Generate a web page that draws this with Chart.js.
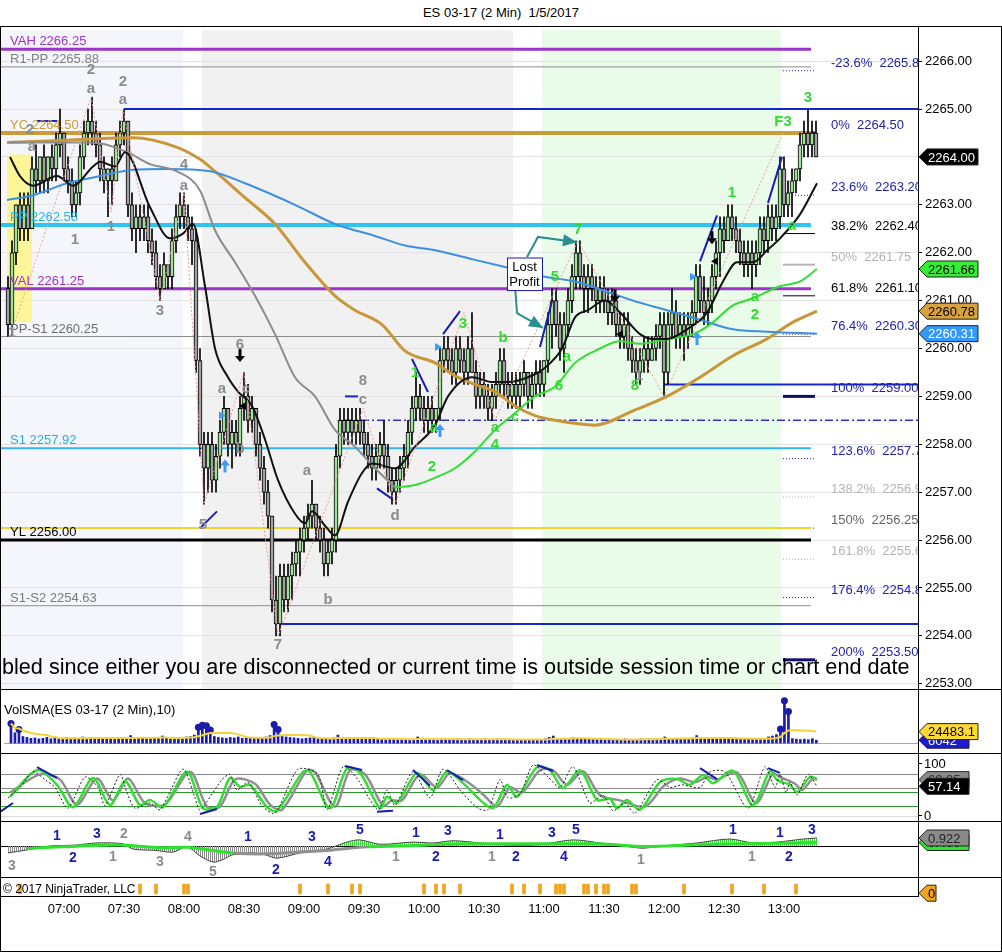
<!DOCTYPE html>
<html>
<head>
<meta charset="utf-8">
<title>ES 03-17 (2 Min) 1/5/2017</title>
<script src="https://cdn.jsdelivr.net/npm/chart.js@4.4.0/dist/chart.umd.min.js"></script>
<style>
  html, body { margin: 0; padding: 0; background: #fff; }
  body { width: 1002px; height: 952px; position: relative; overflow: hidden; font-family: "Liberation Sans", Arial, sans-serif; }
  canvas { position: absolute; left: 0; }
  #title { position: absolute; top: 5px; left: 0; width: 1002px; text-align: center; font-size: 13px; color: #000; }
</style>
</head>
<body>
<div id="title">ES 03-17 (2 Min)&nbsp;&nbsp;1/5/2017</div>
<canvas id="main" width="1002" height="660" style="top:30px"></canvas>
<canvas id="vol" width="1002" height="64" style="top:690px"></canvas>
<canvas id="stoch" width="1002" height="68" style="top:754px"></canvas>
<canvas id="osc" width="1002" height="56" style="top:822px"></canvas>
<canvas id="marks" width="1002" height="74" style="top:878px"></canvas>
<canvas id="frame" width="1002" height="952" style="top:0;pointer-events:none"></canvas>
<script>
const FONT = '"Liberation Sans", Arial, sans-serif';
Chart.defaults.font.family = FONT;
Chart.defaults.color = '#000';

// ---- 2 minute bars, times are minutes after midnight ----
const firstBarTime = 392; // 06:32
const barMinutes = 2;
const firstOpen = 2261.25;
const closes = [
  2260.50,2262.00,2263.00,2262.50,2263.00,2262.50,2263.75,2263.50,2264.00,2263.50,
  2264.00,2263.75,2264.25,2264.50,2263.75,2263.50,2263.00,2263.25,2264.00,2264.50,
  2264.75,2264.50,2264.25,2263.75,2263.50,2263.75,2263.50,2264.25,2264.50,2264.75,
  2263.00,2262.50,2262.75,2262.50,2262.75,2262.25,2262.00,2261.50,2261.25,2261.75,
  2261.50,2262.25,2262.75,2263.00,2262.75,2262.50,2262.25,2259.75,2258.00,2257.50,
  2258.00,2257.25,2257.75,2258.25,2258.75,2258.00,2258.25,2258.00,2258.75,2259.00,
  2258.50,2258.75,2258.00,2257.50,2257.00,2256.50,2254.75,2254.25,2255.25,2254.75,
  2255.25,2255.50,2255.75,2256.00,2256.25,2256.50,2256.75,2256.25,2256.00,2255.50,
  2255.75,2256.00,2257.75,2258.50,2258.25,2258.50,2258.25,2258.50,2258.25,2258.00,
  2257.75,2257.50,2257.75,2258.00,2257.75,2257.25,2257.00,2257.25,2257.50,2257.75,
  2258.25,2258.75,2259.00,2258.75,2258.50,2258.75,2258.50,2258.75,2259.75,2260.00,
  2259.75,2259.50,2260.00,2259.75,2259.50,2260.00,2259.50,2259.00,2259.25,2259.00,
  2258.75,2259.00,2259.25,2259.75,2259.25,2259.00,2259.25,2259.00,2259.25,2259.50,
  2259.00,2259.25,2259.50,2259.25,2259.75,2260.50,2261.00,2260.50,2260.00,2260.50,
  2261.00,2261.50,2262.00,2261.50,2261.25,2261.50,2261.25,2261.00,2261.25,2261.00,
  2260.75,2261.00,2260.50,2260.25,2260.50,2260.00,2259.75,2259.50,2259.75,2260.00,
  2259.75,2260.00,2260.25,2260.50,2259.50,2260.50,2260.75,2260.25,2260.50,2260.25,
  2260.50,2260.75,2261.50,2261.00,2260.75,2261.00,2261.50,2262.00,2262.50,2262.25,
  2262.75,2262.50,2262.25,2262.00,2261.75,2262.00,2261.75,2262.00,2262.50,2262.25,
  2262.75,2262.50,2262.75,2263.75,2263.00,2263.25,2263.50,2263.75,2264.25,2264.50,
  2264.25,2264.50,2264.00
];
const highs = [
  2261.50,2262.25,2263.00,2263.25,2263.25,2263.25,2264.00,2264.25,2264.00,2264.25,
  2264.00,2264.25,2264.50,2265.00,2264.50,2264.00,2263.75,2263.50,2264.25,2264.75,
  2265.00,2265.25,2264.75,2264.50,2264.00,2263.75,2264.00,2264.50,2264.75,2265.00,
  2264.75,2263.25,2263.00,2263.00,2263.00,2263.00,2262.50,2262.25,2261.75,2262.00,
  2261.75,2262.50,2263.00,2263.25,2263.25,2263.00,2262.75,2262.50,2260.00,2258.25,
  2258.25,2258.25,2258.00,2258.50,2259.00,2258.75,2258.50,2258.50,2259.00,2259.50,
  2259.25,2259.00,2258.75,2258.25,2257.75,2257.25,2256.50,2255.25,2255.50,2255.50,
  2255.50,2255.75,2256.00,2256.25,2256.50,2256.75,2257.25,2256.75,2256.50,2256.25,
  2256.00,2256.25,2258.00,2258.75,2258.75,2258.75,2258.75,2258.75,2258.75,2258.50,
  2258.25,2258.00,2258.00,2258.25,2258.50,2258.00,2257.50,2257.50,2257.75,2258.00,
  2258.50,2259.00,2259.50,2259.25,2259.00,2259.00,2259.00,2258.75,2260.00,2260.25,
  2260.25,2260.00,2260.25,2260.25,2260.00,2260.25,2260.75,2259.75,2259.50,2259.50,
  2259.25,2259.25,2259.50,2260.00,2260.00,2259.50,2259.50,2259.50,2259.50,2259.75,
  2259.50,2259.50,2259.75,2259.75,2259.75,2260.75,2261.25,2261.25,2260.75,2260.75,
  2261.25,2261.75,2262.25,2262.25,2261.75,2261.75,2261.75,2261.50,2261.50,2261.50,
  2261.25,2261.25,2261.00,2260.75,2260.75,2260.75,2260.25,2260.00,2260.00,2260.25,
  2260.25,2260.25,2260.50,2260.75,2260.75,2260.75,2261.25,2261.00,2260.75,2260.75,
  2260.75,2261.00,2261.75,2261.75,2261.50,2261.25,2261.75,2262.25,2262.75,2262.75,
  2263.00,2263.00,2262.75,2262.50,2262.25,2262.25,2262.25,2262.25,2262.75,2262.75,
  2263.00,2263.00,2263.00,2264.00,2264.00,2263.50,2263.75,2263.75,2264.50,2264.75,
  2265.00,2264.75,2264.75
];
const lows = [
  2260.25,2260.25,2261.75,2262.25,2262.25,2262.25,2262.50,2263.25,2263.25,2263.25,
  2263.25,2263.50,2263.50,2264.00,2263.50,2263.25,2262.75,2262.75,2263.00,2263.75,
  2264.25,2264.25,2264.00,2263.50,2263.25,2262.75,2263.00,2263.50,2264.00,2264.25,
  2262.75,2262.25,2262.00,2262.25,2262.25,2262.00,2261.75,2261.25,2261.00,2261.25,
  2261.25,2261.25,2262.00,2262.50,2262.50,2262.25,2261.75,2259.50,2257.75,2256.75,
  2257.00,2257.00,2257.00,2257.50,2258.00,2257.75,2257.50,2257.75,2257.75,2258.50,
  2258.25,2258.25,2257.75,2257.25,2256.75,2256.25,2254.50,2254.00,2254.00,2254.50,
  2254.50,2254.75,2255.25,2255.25,2255.75,2256.00,2256.25,2256.00,2255.75,2255.25,
  2255.25,2255.50,2255.75,2257.50,2258.00,2258.00,2258.00,2258.00,2258.00,2257.75,
  2257.50,2257.25,2257.25,2257.50,2257.50,2257.00,2256.75,2256.75,2257.00,2257.25,
  2257.50,2258.00,2258.50,2258.50,2258.25,2258.25,2258.25,2258.25,2258.50,2259.50,
  2259.50,2259.25,2259.25,2259.50,2259.25,2259.25,2259.50,2258.75,2258.75,2258.75,
  2258.50,2258.50,2258.75,2259.00,2259.00,2258.75,2258.75,2258.75,2258.75,2259.00,
  2258.75,2258.75,2259.00,2259.00,2259.00,2259.50,2260.00,2260.25,2259.75,2259.50,
  2260.25,2260.75,2261.25,2261.25,2260.75,2260.75,2261.00,2260.75,2260.75,2260.75,
  2260.50,2260.50,2260.25,2260.00,2260.00,2259.75,2259.50,2259.25,2259.25,2259.50,
  2259.50,2259.75,2259.75,2260.00,2259.00,2259.25,2260.25,2260.00,2260.00,2259.75,
  2260.00,2260.25,2260.50,2260.75,2260.50,2260.50,2260.75,2261.25,2261.50,2262.00,
  2262.25,2262.25,2262.00,2261.75,2261.50,2261.50,2261.25,2261.50,2261.75,2262.00,
  2262.00,2262.25,2262.25,2262.50,2262.75,2262.75,2262.75,2263.25,2263.50,2264.00,
  2264.00,2264.00,2264.00
];
const volumes = [
  42000,22000,29000,14000,12000,10000,11000,9000,10000,12000,
  9000,11000,10000,9000,12000,10000,11000,9000,13000,10000,
  11000,12000,9000,10000,11000,10000,9000,12000,11000,10000,
  16000,12000,10000,11000,9000,10000,12000,11000,15000,10000,
  9000,11000,12000,10000,13000,14000,17000,34000,38000,37000,
  28000,14000,12000,11000,10000,12000,11000,13000,10000,11000,
  12000,10000,11000,12000,13000,16000,40000,29000,15000,13000,
  12000,11000,10000,9000,10000,11000,12000,9000,8000,10000,
  9000,11000,17000,12000,10000,9000,11000,10000,9000,8000,
  9000,10000,8000,9000,7000,9000,10000,9000,6000,8000,
  7000,8000,13000,9000,8000,7000,9000,8000,9000,8000,
  7000,8000,9000,7000,8000,9000,8000,7000,8000,9000,
  8000,7000,9000,8000,7000,8000,6000,7000,8000,7000,
  8000,7000,8000,7000,9000,12000,15000,9000,8000,10000,
  9000,11000,10000,9000,8000,9000,8000,7000,8000,7000,
  8000,7000,8000,7000,9000,8000,7000,8000,9000,8000,
  9000,8000,9000,10000,13000,10000,9000,10000,9000,9000,
  10000,11000,16000,12000,10000,9000,10000,11000,12000,9000,
  10000,9000,8000,9000,8000,9000,8000,9000,10000,9000,
  13000,15000,18000,30000,91000,68000,9500,8200,7400,8300,
  7100,9289,6042
];

// ---- moving averages (time, value) ----
const blackMaT = [393,398,404.5,416.5,424.5,434.5,438,445.5,450.5,463,473,479.5,484.5,490.5,495.5,502,507,514,520.5,527,535.5,540.5,544,550.5,555.5,562,569,574,585.5,595.5,605.5,612,624,634,642,652,660.5,669,675.5,682,690.5,698,708,714.5,721.5,731.5,741.5,749.5,756.5,764.5,771.5,778,788,796.5];
const blackMaV = [2264.0,2263.6,2263.4,2263.6,2263.4,2263.8,2263.9,2263.8,2264.1,2262.95,2262.3,2262.4,2262.6,2261.3,2260.0,2259.4,2259.1,2258.8,2258.1,2257.25,2256.55,2256.35,2256.6,2256.3,2256.1,2256.8,2257.4,2257.6,2257.5,2257.95,2258.4,2259.0,2259.4,2259.3,2259.3,2259.4,2259.6,2260.0,2260.65,2260.8,2261.0,2260.75,2260.3,2260.2,2260.2,2260.4,2260.75,2261.4,2261.8,2261.8,2262.05,2262.3,2262.8,2263.45];
const slowMaDownT = [393,434.5,451.5,463,476.5,488,495.5,505.5,515.5,525.5,535.5,545.5,555.5,565.5,575.5,585.5];
const slowMaDownV = [2264.3,2264.3,2264.1,2263.85,2263.7,2263.3,2262.47,2261.8,2261.1,2260.3,2259.4,2259.0,2258.3,2257.95,2257.5,2257.1];
const slowMaUpT = [585.5,595.5,605.5,615.5,625.5,635.5,645.5,655.5,665.5,675.5,688,698,708,721.5,734.5,743,754.5,764.5,778,788,796.5];
const slowMaUpV = [2257.1,2257.15,2257.3,2257.5,2257.85,2258.3,2258.65,2259.0,2259.2,2259.7,2260.0,2260.15,2260.1,2260.2,2260.3,2260.5,2260.9,2261.05,2261.3,2261.4,2261.66];
const blueMaT = [391.5,404.5,421.5,438,454.5,471.5,493,510.5,535.5,555.5,575.5,590.5,605.5,625.5,640.5,660.5,675.5,690.5,704.5,721.5,738,754.5,771.5,796.5];
const blueMaV = [2263.1,2263.2,2263.45,2263.6,2263.73,2263.75,2263.7,2263.45,2263.0,2262.6,2262.35,2262.15,2262.05,2261.85,2261.7,2261.5,2261.4,2261.2,2261.0,2260.8,2260.6,2260.4,2260.35,2260.31];
const goldMaT = [391.5,421.5,454.5,476.5,488,495.5,510.5,525.5,540.5,555.5,565.5,579,590.5,605.5,615.5,625.5,635.5,645.5,655.5,665.5,685.5,704.5,721.5,738,754.5,771.5,784.5,796.5];
const goldMaV = [2264.3,2264.35,2264.4,2264.2,2263.95,2263.7,2263.15,2262.6,2261.8,2261.1,2260.8,2260.5,2259.95,2259.7,2259.43,2259.25,2259.1,2258.8,2258.6,2258.5,2258.4,2258.7,2259.0,2259.4,2259.85,2260.2,2260.55,2260.78];

// ---- levels ----
const levelNames = ['VAH','R1-PP','YC','PP','VAL','PP-S1','S1','YL','S1-S2'];
const levelPrices = [2266.25,2265.88,2264.50,2262.58,2261.25,2260.25,2257.92,2256.00,2254.63];
const levelEnd = 793.5;
const rayPrices = [2265.00,2259.25,2254.25,2258.50,2256.25,2264.75,2259.00];
const rayStarts = [450,720,528,560.5,388.5,406.5,560.5];
const rayEnds = [847,847,847,847,793.5,416.5,567];
const fibPct = ['-23.6%','0%','23.6%','38.2%','50%','61.8%','76.4%','100%','123.6%','138.2%','150%','161.8%','176.4%','200%'];
const fibPrice = [2265.80,2264.50,2263.20,2262.40,2261.75,2261.10,2260.30,2259.00,2257.70,2256.90,2256.25,2255.60,2254.80,2253.50];
const fibStart = 779.5, fibEnd = 795.5;
const zigT = [393,433.5,443.5,449.5,468,480,490,510,527,569.5,585.5,620,635.5,677,720,779.5];
const zigP = [2260.25,2265.25,2262.85,2265.0,2261.0,2263.25,2256.75,2259.5,2254.0,2258.75,2256.75,2260.75,2258.5,2262.25,2259.0,2264.5];
const trendT = [[488,496.5],[576.5,584],[594,602],[609.5,618],[658,664],[738,746.5],[772,779]];
const trendP = [[2256.25,2256.6],[2257.08,2256.86],[2259.78,2259.09],[2260.3,2260.78],[2260.03,2260.99],[2261.82,2262.78],[2263.04,2264.0]];
const sessionStart = [388.5,489,659];
const sessionEnd = [479.5,644.5,778.5];
const boxT = [391.5,404], boxP = [2264.05,2260.55];

// ---- wave count labels ----
const grayText = ['2','a','2','a','2','a','1','1','1','3','4','a','5','6','a','c','b','7','a','b','8','c','d','1'];
const grayT = [433.5,433.5,449.5,449.5,403,404,425.5,443.5,394,468,480,480,489.5,508,499,511,508,527,541.5,552,569.5,569.5,585.5,707.5];
const grayP = [2265.81,2265.42,2265.56,2265.19,2264.56,2264.2,2262.26,2262.53,2260.32,2260.78,2263.83,2263.39,2256.31,2260.07,2259.15,2259.15,2257.9,2253.81,2257.44,2254.75,2259.32,2258.92,2256.5,2259.42];
const greenText = ['1','a','2','3','a','4','b','c','5','a','6','7','8','1','a','a','2','F3','3'];
const greenT = [595.5,605,604,619.5,635.5,635.5,639.5,645.5,665.5,671.5,667.5,677,705.5,754,784,765.5,765.5,779.5,792];
const greenP = [2259.5,2258.34,2257.52,2260.51,2258.34,2257.98,2260.23,2258.57,2261.49,2259.82,2259.21,2262.47,2259.21,2263.24,2262.56,2261.07,2260.7,2264.73,2265.23];
const downArrowT = [508,695.5,744], downArrowP = [2259.8,2261.05,2262.26];
const upArrowT = [500.5,608,736.5], upArrowP = [2257.6,2258.34,2260.26];
const rightTriT = [499,607,734.5], rightTriP = [2258.6,2260.03,2261.5];
const leftTriT = [509.5,698,745.5], leftTriP = [2258.8,2260.3,2261.82];
const noteT = [641.5,659], noteP = [2261.9,2261.22];
const noteArrowA = [[651.5,2261.91],[657,2262.33],[676.5,2262.22]];
const noteArrowB = [[645.5,2261.3],[646.5,2260.74],[659.5,2260.43]];

// ---- stochastics ----
const stochGreenT = [393,406.5,416.5,424.5,434.5,443,450.5,458,463,469.5,481.5,489.5,496.5,503,508,513,521.5,526.5,539.5,543,553,561.5,568,578,581.5,586.5,596.5,604.5,611.5,621.5,628,634.5,641.5,646.5,656.5,663,669.5,678,686.5,693,696.5,701.5,708,718,726.5,733,739.5,744.5,754.5,764.5,773,776.5,783,786.5,793,796.5];
const stochGreenV = [37,88,60,17,73,21,67,21,31,17,85,15,17,73,56,60,17,10,85,85,15,92,83,15,37,25,83,50,85,56,31,15,60,37,94,88,54,88,31,33,15,31,12,65,71,60,79,63,87,21,87,69,60,46,75,71];
const stochGrayT = [393,408,418,426.5,436.5,444.5,452,460.5,470.5,483,491.5,498,505.5,515.5,523,529,541.5,545.5,555.5,563,570.5,579.5,584,589,598,606.5,613,623,630.5,636.5,643,649,658,664.5,671.5,679.5,688,698,710.5,720,728,735.5,741.5,746.5,756.5,766,774.5,778,785.5,789,794.5,796.5];
const stochGrayV = [45,80,70,22,72,30,72,25,22,85,18,18,70,62,22,12,88,84,18,88,80,20,30,30,80,55,82,62,38,18,55,45,88,88,60,86,40,30,18,58,72,65,75,70,84,25,82,75,62,50,72,69.95];
const stochFastT = [392,398,404.5,410.5,415.5,422,430.5,437,440.5,448,451.5,455.5,463,468,479.5,485.5,488,499,503,506.5,512,519,525.5,537,547,551.5,559.5,566,577,581.5,585.5,594.5,603,609.5,619,627,632,638,642,648,654.5,662,668,674.5,683,689.5,694.5,700.5,705.5,716.5,723,729,738,743,750.5,762,770.5,775.5,778,781,783,786.5,792,796.5];
const stochFastV = [35,55,85,70,55,15,75,55,20,80,45,15,25,12,90,35,12,70,80,50,65,20,5,90,80,12,95,75,12,50,20,85,35,90,45,15,12,70,35,42,98,75,55,95,25,40,10,25,5,70,55,60,55,85,85,15,95,55,80,45,65,40,80,57.14];
const stochLevels = [80,54,46,20];
const stochTrendT = [[388,394.5],[406.5,416.5],[488,496.5],[560.5,569],[576.5,584.5],[594.5,603],[611.5,619.5],[656.5,664.5],[738,746.5],[772,778]];
const stochTrendV = [[7.7,25],[94,73],[4,13.5],[96,88.5],[8,10],[88.5,58],[88.5,69],[98,86.5],[92,71],[92,83]];

// ---- oscillator ----
const oscT = [392,401.5,413,425.5,436.5,449.5,454.5,465.5,474.5,481.5,488,494.5,499,504.5,514.5,520.5,526.5,538,551.5,561.5,568,578,594.5,604.5,614.5,628,633,649.5,659.5,674.5,688,703,709.5,719.5,736.5,753,764.5,776.5,789.5,796.5];
const oscV = [-0.8,-0.45,0,0.1,0.35,0.25,-0.35,-0.5,-0.7,-0.1,-1.15,-1.85,-1.6,-1.0,-0.8,-1.0,-1.4,-0.8,-0.35,0.45,0.7,0.2,0.45,0.35,0.6,0.35,0.2,0.1,0.2,0.7,0.35,-0.1,-0.25,0,0.35,0.8,0.35,0.45,0.8,0.922];
const sigT = [401.5,418,449.5,468,481.5,504.5,521.5,538,554.5,571.5,588,621.5,659.5,688,708,738,768,796.5];
const sigV = [-0.3,-0.1,0.1,-0.2,-0.15,-0.8,-0.9,-0.7,-0.45,-0.1,0.0,0.25,0.25,0.25,-0.05,0.15,0.3,0.4];
const oscGrayText = ['3','1','2','3','4','5','1','1','1','1'];
const oscGrayT = [394,444.5,450,468,482,494.5,586,634,708.5,764];
const oscGrayV = [-2.3,-1.26,1.38,-1.84,1.03,-2.99,-1.26,-1.26,-1.6,-1.26];
const oscBlueText = ['1','2','3','1','2','3','4','5','1','2','3','1','2','3','4','5','1','1','2','3'];
const oscBlueT = [416.5,424.5,436.5,512,526,544,552,568,596,606,612,638,646,664,670,676,754.5,778,782.5,794];
const oscBlueV = [1.15,-1.38,1.38,1.03,-2.76,1.03,-1.84,1.84,1.49,-1.26,1.72,1.26,-1.26,1.49,-1.26,1.84,1.84,1.49,-1.26,1.84];

// ---- signal markers ----
const markTimes = [398,458,466,480,482,538,552,564,568,600,606,610,618,644,650,658,666,668,670,680,682,686,690,692,704,706,730,754,770,786];

const timeTicks = [420,450,480,510,540,570,600,630,660,690,720,750,780];
const priceTicks = [2253,2254,2255,2256,2257,2258,2259,2260,2261,2262,2263,2264,2265,2266];

// ---- derived ----
const X_MIN = 388.5, X_MAX = 847;
const barTimes = closes.map((c, i) => firstBarTime + i * barMinutes);
const opens = closes.map((c, i) => i ? closes[i - 1] : firstOpen);
const pts = (T, V) => T.map((t, i) => ({ x: t, y: V[i] }));
const segs = (T, V) => { const d = []; T.forEach((p, i) => { d.push({ x: p[0], y: V[i][0] }, { x: p[1], y: V[i][1] }, { x: p[1] + 0.01, y: null }); }); return d; };
const volSma = volumes.map((v, i) => { const s = volumes.slice(Math.max(0, i - 9), i + 1); return s.reduce((a, b) => a + b, 0) / s.length; });
const hhmm = m => String(Math.floor(m / 60)).padStart(2, '0') + ':' + String(m % 60).padStart(2, '0');

function fixW(s) { s.width = 84; s.paddingTop = 0; s.paddingBottom = 0; }
function fixX(s) { s.paddingLeft = 0; s.paddingRight = 0; }
function baseOpts(yScale, xExtra) {
  return {
    responsive: false, animation: false, devicePixelRatio: 1, events: [],
    layout: { padding: { left: 1, right: 0, top: 0, bottom: 0 } },
    plugins: { legend: { display: false }, tooltip: { enabled: false } },
    scales: {
      x: Object.assign({ type: 'linear', min: X_MIN, max: X_MAX, offset: false, display: false, afterFit: fixX }, xExtra || {}),
      y: Object.assign({ position: 'right', afterFit: fixW, grid: { display: false }, border: { display: false }, ticks: { display: false } }, yScale)
    }
  };
}
function tag(ctx, x, y, text, bg, fg, w, fs) {
  ctx.save();
  ctx.beginPath();
  ctx.moveTo(x + 1, y); ctx.lineTo(x + 9, y - 8); ctx.lineTo(x + 9 + w, y - 8); ctx.lineTo(x + 9 + w, y + 8); ctx.lineTo(x + 9, y + 8); ctx.closePath();
  ctx.fillStyle = bg; ctx.fill(); ctx.strokeStyle = '#222'; ctx.lineWidth = 1; ctx.stroke();
  ctx.fillStyle = fg; ctx.font = (fs || 13) + 'px ' + FONT; ctx.textBaseline = 'middle'; ctx.textAlign = 'left';
  ctx.fillText(text, x + 10, y + 1);
  ctx.restore();
}
function hatch(color) {
  const c = document.createElement('canvas'); c.width = 2; c.height = 1;
  const g = c.getContext('2d'); g.fillStyle = color; g.fillRect(0, 0, 1, 1);
  return g.createPattern(c, 'repeat');
}
function hline(price, t0, t1, color, width, dash, order) {
  return { type: 'line', data: [{ x: t0, y: price }, { x: t1, y: price }], borderColor: color, borderWidth: width, borderDash: dash || [], pointRadius: 0, order: order };
}
function maLine(T, V, color, width) {
  return { type: 'line', data: pts(T, V), borderColor: color, borderWidth: width, pointRadius: 0, cubicInterpolationMode: 'monotone', order: 1 };
}

// ================= main price panel =================
const LEVEL_STYLE = [['#9b35c9', 3], ['#8c8c8c', 1], ['#c99b3a', 4], ['#2ec3f0', 4], ['#9b35c9', 3], ['#8c8c8c', 1], ['#36b6e8', 2], ['#000', 3], ['#8c8c8c', 1]];
const LEVEL_TEXT = ['#9b35c9', '#808080', '#c99b3a', '#22b8ec', '#9b35c9', '#6e6e6e', '#2aaee0', '#000', '#7a7a7a'];
const RAY_STYLE = [['#1428c8', 2], ['#1428c8', 2], ['#1428c8', 2], ['#3030d0', 1.5, [8, 3, 2, 3]], ['#f2d22e', 2], ['#1428c8', 2], ['#1428c8', 2]];
const FIB_STYLE = [['#2222aa', 1, [1, 2]], ['#10106a', 3], ['#2222aa', 1, [1, 2]], ['#000', 1], ['#b4b4b4', 2], ['#000', 1], ['#2222aa', 1, [1, 2]], ['#10106a', 3],
  ['#2222aa', 1, [1, 2]], ['#aaa', 1, [1, 2]], ['#444', 1, [1, 2]], ['#aaa', 1, [1, 2]], ['#2222aa', 1, [1, 2]], ['#10106a', 3]];
const FIB_TEXT = ['#2222aa', '#2222aa', '#2222aa', '#000', '#b4b4b4', '#000', '#2222aa', '#2222aa', '#2222aa', '#b4b4b4', '#666', '#b4b4b4', '#2222aa', '#2222aa'];
const SESSION_FILL = ['#f4f6fb', '#f1f1f1', '#e9fbe9'];

const mainSets = [
  { type: 'line', data: segs(trendT, trendP), borderColor: '#1a1ab4', borderWidth: 2, pointRadius: 0, spanGaps: false, order: 0 },
  { type: 'line', data: pts(zigT, zigP), borderColor: '#f09a9a', borderWidth: 1, borderDash: [2, 2], pointRadius: 0, order: 0 },
  maLine(blackMaT, blackMaV, '#111', 2),
  maLine(slowMaDownT, slowMaDownV, '#8c8c8c', 2),
  maLine(slowMaUpT, slowMaUpV, '#33dd33', 2),
  maLine(blueMaT, blueMaV, '#3d8fe0', 2),
  maLine(goldMaT, goldMaV, '#c8973a', 3),
  { type: 'bar', data: barTimes.map((t, i) => ({ x: t, y: [opens[i], closes[i]] })),
    backgroundColor: closes.map((c, i) => c >= opens[i] ? '#9fe39a' : '#a0a0a0'),
    borderColor: '#000', borderWidth: 1, borderSkipped: false, barThickness: 4, grouped: false, order: 2 },
  { type: 'bar', data: barTimes.map((t, i) => ({ x: t, y: [lows[i], highs[i]] })),
    backgroundColor: '#000', borderWidth: 0, barThickness: 1, grouped: false, order: 3 }
];
levelPrices.forEach((p, i) => mainSets.push(hline(p, X_MIN, levelEnd, LEVEL_STYLE[i][0], LEVEL_STYLE[i][1], null, 5)));
rayPrices.forEach((p, i) => mainSets.push(hline(p, rayStarts[i], rayEnds[i], RAY_STYLE[i][0], RAY_STYLE[i][1], RAY_STYLE[i][2], 5)));
fibPrice.forEach((p, i) => mainSets.push(hline(p, fibStart, fibEnd, FIB_STYLE[i][0], FIB_STYLE[i][1], FIB_STYLE[i][2], 5)));

function downArrow(ctx, px, py, color) {
  ctx.fillStyle = color; ctx.fillRect(px - 1.5, py - 9, 3, 8);
  ctx.beginPath(); ctx.moveTo(px - 5, py - 2); ctx.lineTo(px + 5, py - 2); ctx.lineTo(px, py + 4); ctx.closePath(); ctx.fill();
}
function upArrow(ctx, px, py, color) {
  ctx.fillStyle = color; ctx.fillRect(px - 1.5, py + 1, 3, 8);
  ctx.beginPath(); ctx.moveTo(px - 5, py + 2); ctx.lineTo(px + 5, py + 2); ctx.lineTo(px, py - 4); ctx.closePath(); ctx.fill();
}
function tri(ctx, px, py, dir, color) {
  ctx.fillStyle = color; ctx.beginPath();
  ctx.moveTo(px - 3 * dir, py - 4); ctx.lineTo(px + 4 * dir, py); ctx.lineTo(px - 3 * dir, py + 4); ctx.closePath(); ctx.fill();
}
function arrowPath(ctx, P) {
  ctx.strokeStyle = '#2b8f8f'; ctx.fillStyle = '#2b8f8f'; ctx.lineWidth = 2;
  ctx.beginPath(); P.forEach((p, i) => i ? ctx.lineTo(p[0], p[1]) : ctx.moveTo(p[0], p[1])); ctx.stroke();
  const [x1, y1] = P[P.length - 2], [x2, y2] = P[P.length - 1];
  const a = Math.atan2(y2 - y1, x2 - x1), c = Math.cos(a), s = Math.sin(a);
  ctx.beginPath(); ctx.moveTo(x2, y2);
  ctx.lineTo(x2 - 14 * c + 6 * s, y2 - 14 * s - 6 * c); ctx.lineTo(x2 - 14 * c - 6 * s, y2 - 14 * s + 6 * c);
  ctx.closePath(); ctx.fill();
}

const mainDecor = {
  id: 'mainDecor',
  beforeDraw(chart) {
    const { ctx, chartArea: a, scales: { x } } = chart;
    ctx.save();
    sessionStart.forEach((s, i) => {
      const x0 = Math.max(a.left, x.getPixelForValue(s)), x1 = Math.min(a.right, x.getPixelForValue(sessionEnd[i]));
      ctx.fillStyle = SESSION_FILL[i]; ctx.fillRect(x0, a.top, x1 - x0, a.height);
    });
    ctx.restore();
  },
  beforeDatasetsDraw(chart) {
    const { ctx, scales: { x, y } } = chart;
    ctx.save();
    ctx.fillStyle = 'rgba(255,245,120,0.75)';
    const x0 = x.getPixelForValue(boxT[0]), x1 = x.getPixelForValue(boxT[1]);
    const y0 = y.getPixelForValue(boxP[0]), y1 = y.getPixelForValue(boxP[1]);
    ctx.fillRect(x0, y0, x1 - x0, y1 - y0);
    ctx.restore();
  },
  afterDatasetsDraw(chart) {
    const { ctx, chartArea: a, scales: { x, y } } = chart;
    const X = t => x.getPixelForValue(t), Y = p => y.getPixelForValue(p);
    ctx.save();
    ctx.beginPath(); ctx.rect(a.left, a.top, a.width, a.height); ctx.clip();
    ctx.font = '13px ' + FONT; ctx.textAlign = 'left'; ctx.textBaseline = 'bottom';
    levelNames.forEach((n, i) => { ctx.fillStyle = LEVEL_TEXT[i]; ctx.fillText(n + ' ' + levelPrices[i].toFixed(2), 10, Y(levelPrices[i]) - 1); });
    fibPct.forEach((p, i) => { ctx.fillStyle = FIB_TEXT[i]; ctx.fillText(p + '  ' + fibPrice[i].toFixed(2), 831, Math.min(Y(fibPrice[i]) - 1, 629)); });
    ctx.font = 'bold 15px ' + FONT; ctx.textAlign = 'center'; ctx.textBaseline = 'middle';
    ctx.fillStyle = '#8c8c8c';
    grayText.forEach((s, i) => ctx.fillText(s, X(grayT[i]), Y(grayP[i])));
    ctx.fillStyle = '#2fdc2f';
    greenText.forEach((s, i) => ctx.fillText(s, X(greenT[i]), Y(greenP[i])));
    downArrowT.forEach((t, i) => downArrow(ctx, X(t), Y(downArrowP[i]), '#000'));
    upArrowT.forEach((t, i) => upArrow(ctx, X(t), Y(upArrowP[i]), '#3b9cff'));
    rightTriT.forEach((t, i) => tri(ctx, X(t), Y(rightTriP[i]), 1, '#3b9cff'));
    leftTriT.forEach((t, i) => tri(ctx, X(t), Y(leftTriP[i]), -1, '#000'));
    // lost profit note
    arrowPath(ctx, noteArrowA.map(p => [X(p[0]), Y(p[1])]));
    arrowPath(ctx, noteArrowB.map(p => [X(p[0]), Y(p[1])]));
    const bx = X(noteT[0]), by = Y(noteP[0]), bw = X(noteT[1]) - bx, bh = Y(noteP[1]) - by;
    ctx.fillStyle = '#fff'; ctx.fillRect(bx, by, bw, bh);
    ctx.strokeStyle = '#1a1aa0'; ctx.lineWidth = 1; ctx.strokeRect(bx + 0.5, by + 0.5, bw, bh);
    ctx.fillStyle = '#000'; ctx.font = '13px ' + FONT;
    ctx.fillText('Lost', bx + bw / 2, by + bh * 0.3); ctx.fillText('Profit', bx + bw / 2, by + bh * 0.75);
    // status message across the bottom
    const msg = 'bled since either you are disconnected or current time is outside session time or chart end date';
    ctx.font = '20px ' + FONT; const w = ctx.measureText(msg).width;
    ctx.font = (20 * 908 / w).toFixed(2) + 'px ' + FONT; ctx.textAlign = 'left'; ctx.fillStyle = '#000';
    ctx.fillText(msg, 2, 638);
    ctx.restore();
  },
  afterDraw(chart) {
    const { ctx, chartArea: a, scales: { y } } = chart;
    const last = arr => arr[arr.length - 1];
    tag(ctx, a.right, y.getPixelForValue(last(closes)), last(closes).toFixed(2), '#000', '#fff', 51);
    tag(ctx, a.right, y.getPixelForValue(last(slowMaUpV)), last(slowMaUpV).toFixed(2), '#33ee33', '#000', 51);
    tag(ctx, a.right, y.getPixelForValue(last(goldMaV)), last(goldMaV).toFixed(2), '#d6a23e', '#000', 51);
    tag(ctx, a.right, y.getPixelForValue(last(blueMaV)), last(blueMaV).toFixed(2), '#3399ff', '#fff', 51);
  }
};

new Chart(document.getElementById('main'), {
  type: 'line',
  data: { datasets: mainSets },
  options: baseOpts({
    min: 2252.87, max: 2266.65,
    afterBuildTicks: s => { s.ticks = priceTicks.map(v => ({ value: v })); },
    ticks: { display: true, callback: v => v.toFixed(2), color: '#000', font: { size: 13 }, padding: 3, autoSkip: false },
    grid: { display: true, color: '#e2e2e2', tickColor: '#000', tickLength: 4, drawTicks: true }
  }),
  plugins: [mainDecor]
});

// ================= volume panel =================
const bigVol = volumes.map((v, i) => v >= 25000 ? { x: barTimes[i], y: v } : null).filter(Boolean);
new Chart(document.getElementById('vol'), {
  type: 'line',
  data: { datasets: [
    { type: 'line', data: pts(barTimes, volSma), borderColor: '#f3d23c', borderWidth: 2, pointRadius: 0, order: 0 },
    { type: 'line', data: bigVol, showLine: false, pointRadius: 3.5, pointBackgroundColor: '#1c1ca8', pointBorderWidth: 0, order: 1 },
    { type: 'bar', data: pts(barTimes, volumes), backgroundColor: '#1c1ca8', barThickness: 2, grouped: false, order: 2 }
  ] },
  options: baseOpts({ min: -15064, max: 105448 }),
  plugins: [{
    id: 'volDecor',
    beforeDatasetsDraw(chart) {
      const { ctx, chartArea: a, scales: { y } } = chart;
      ctx.save(); ctx.strokeStyle = '#a8a8a8'; ctx.lineWidth = 1;
      const y0 = Math.round(y.getPixelForValue(0)) + 0.5;
      ctx.beginPath(); ctx.moveTo(a.left, y0); ctx.lineTo(a.right, y0); ctx.stroke(); ctx.restore();
    },
    afterDraw(chart) {
      const { ctx, chartArea: a, scales: { y } } = chart;
      ctx.save(); ctx.font = '13px ' + FONT; ctx.fillStyle = '#000'; ctx.textBaseline = 'middle';
      ctx.fillText('VolSMA(ES 03-17 (2 Min),10)', 4, 20); ctx.restore();
      const lv = volumes[volumes.length - 1], ls = volSma[volSma.length - 1];
      tag(ctx, a.right, y.getPixelForValue(lv), String(lv), '#1c1cd0', '#fff', 42);
      tag(ctx, a.right, y.getPixelForValue(ls), ls.toFixed(1), '#ffd933', '#000', 51);
    }
  }]
});

// ================= stochastics panel =================
const STOCH_LEVEL_COLOR = ['#8a8a8a', '#8a8a8a', '#2a9a2a', '#2a9a2a'];
new Chart(document.getElementById('stoch'), {
  type: 'line',
  data: { datasets: [
    { data: segs(stochTrendT, stochTrendV), borderColor: '#1a1ab4', borderWidth: 2, pointRadius: 0, spanGaps: false, order: 0 },
    { data: pts(stochFastT, stochFastV), borderColor: '#222', borderWidth: 1, borderDash: [2, 2], pointRadius: 0, tension: 0.25, order: 1 },
    { data: pts(stochGreenT, stochGreenV), borderColor: '#33dd33', borderWidth: 2.5, pointRadius: 0, tension: 0.3, order: 2 },
    { data: pts(stochGrayT, stochGrayV), borderColor: '#8f8f8f', borderWidth: 2.5, pointRadius: 0, tension: 0.3, order: 3 }
  ] },
  options: baseOpts({
    min: -11.54, max: 119.23,
    afterBuildTicks: s => { s.ticks = [0, 100].map(v => ({ value: v })); },
    ticks: { display: true, color: '#000', font: { size: 13 }, padding: 2 },
    grid: { display: true, drawOnChartArea: false, tickColor: '#000', tickLength: 4 }
  }),
  plugins: [{
    id: 'stochDecor',
    beforeDatasetsDraw(chart) {
      const { ctx, chartArea: a, scales: { y } } = chart;
      ctx.save(); ctx.lineWidth = 1;
      const ln = (v, c) => { const yy = Math.round(y.getPixelForValue(v)) + 0.5; ctx.strokeStyle = c; ctx.beginPath(); ctx.moveTo(a.left, yy); ctx.lineTo(a.right, yy); ctx.stroke(); };
      ln(0, '#dcdcdc');
      stochLevels.forEach((v, i) => ln(v, STOCH_LEVEL_COLOR[i]));
      ctx.restore();
    },
    afterDraw(chart) {
      const { ctx, chartArea: a, scales: { y } } = chart;
      const g = stochGrayV[stochGrayV.length - 1], f = stochFastV[stochFastV.length - 1];
      tag(ctx, a.right, y.getPixelForValue(g), g.toFixed(2), '#8a8a8a', '#333', 42);
      tag(ctx, a.right, y.getPixelForValue(f), f.toFixed(2), '#000', '#fff', 42);
    }
  }]
});

// ================= oscillator panel =================
new Chart(document.getElementById('osc'), {
  type: 'line',
  data: { datasets: [
    { data: pts(sigT, sigV), borderWidth: 3, pointRadius: 0, tension: 0.3, order: 0,
      segment: { borderColor: c => c.p0.parsed.y < -0.3 ? '#909090' : '#2fe02f' }, borderColor: '#2fe02f' },
    { data: pts(oscT, oscV), borderColor: '#444', borderWidth: 1, pointRadius: 0, tension: 0.3, order: 1,
      fill: { target: 'origin', above: hatch('#3cd83c'), below: hatch('#8a8a8a') } }
  ] },
  options: baseOpts({ min: -3.678, max: 2.759 }),
  plugins: [{
    id: 'oscDecor',
    beforeDatasetsDraw(chart) {
      const { ctx, chartArea: a, scales: { y } } = chart;
      const yy = Math.round(y.getPixelForValue(0)) + 0.5;
      ctx.save(); ctx.strokeStyle = '#000'; ctx.lineWidth = 1;
      ctx.beginPath(); ctx.moveTo(a.left, yy); ctx.lineTo(a.right, yy); ctx.stroke(); ctx.restore();
    },
    afterDatasetsDraw(chart) {
      const { ctx, chartArea: a, scales: { x, y } } = chart;
      ctx.save(); ctx.beginPath(); ctx.rect(a.left, a.top, a.width, a.height); ctx.clip();
      ctx.font = 'bold 14px ' + FONT; ctx.textAlign = 'center'; ctx.textBaseline = 'middle';
      ctx.fillStyle = '#8c8c8c';
      oscGrayText.forEach((s, i) => ctx.fillText(s, x.getPixelForValue(oscGrayT[i]), y.getPixelForValue(oscGrayV[i])));
      ctx.fillStyle = '#1a1ab4';
      oscBlueText.forEach((s, i) => ctx.fillText(s, x.getPixelForValue(oscBlueT[i]), y.getPixelForValue(oscBlueV[i])));
      ctx.restore();
    },
    afterDraw(chart) {
      const { ctx, chartArea: a, scales: { y } } = chart;
      const s = sigV[sigV.length - 1], o = oscV[oscV.length - 1];
      tag(ctx, a.right, y.getPixelForValue(s), s.toFixed(3), '#2fe02f', '#000', 42);
      tag(ctx, a.right, y.getPixelForValue(o), o.toFixed(3), '#8a8a8a', '#222', 42);
    }
  }]
});

// ================= marker panel + time axis =================
new Chart(document.getElementById('marks'), {
  type: 'line',
  data: { datasets: [
    { type: 'bar', data: markTimes.map(t => ({ x: t, y: [0.16, 0.68] })), backgroundColor: '#f2a51a', barThickness: 3, grouped: false }
  ] },
  options: baseOpts({ min: 0, max: 1 }, {
    display: true, position: 'bottom',
    afterBuildTicks: s => { s.ticks = timeTicks.map(v => ({ value: v })); },
    afterFit: s => { s.height = 55; s.paddingLeft = 0; s.paddingRight = 0; },
    ticks: { callback: v => hhmm(v), color: '#000', font: { size: 13 }, padding: 5, maxRotation: 0, autoSkip: false },
    grid: { display: false, drawTicks: false }, border: { display: false }
  }),
  plugins: [{
    id: 'markDecor',
    afterDraw(chart) {
      const { ctx, chartArea: a, scales: { y } } = chart;
      ctx.save(); ctx.font = '12px ' + FONT; ctx.fillStyle = '#000'; ctx.textBaseline = 'middle'; ctx.textAlign = 'left';
      ctx.fillText('\u00a9 2017 NinjaTrader, LLC', 3, 12); ctx.restore();
      tag(ctx, a.right, y.getPixelForValue(0.2), '0', '#f2a51a', '#000', 9);
    }
  }]
});

// ================= panel frame =================
(function () {
  const c = document.getElementById('frame').getContext('2d');
  c.strokeStyle = '#000'; c.lineWidth = 1;
  const h = (yy, x0, x1) => { c.beginPath(); c.moveTo(x0, yy + 0.5); c.lineTo(x1, yy + 0.5); c.stroke(); };
  const v = (xx, y0, y1) => { c.beginPath(); c.moveTo(xx + 0.5, y0); c.lineTo(xx + 0.5, y1); c.stroke(); };
  h(26, 0, 1002); h(689, 0, 1002); h(753, 0, 1002); h(821, 0, 1002); h(877, 0, 1002); h(896, 0, 918); h(951, 0, 1002);
  v(0, 26, 952); v(918, 26, 897); v(1001, 26, 952);
})();
</script>
</body>
</html>
